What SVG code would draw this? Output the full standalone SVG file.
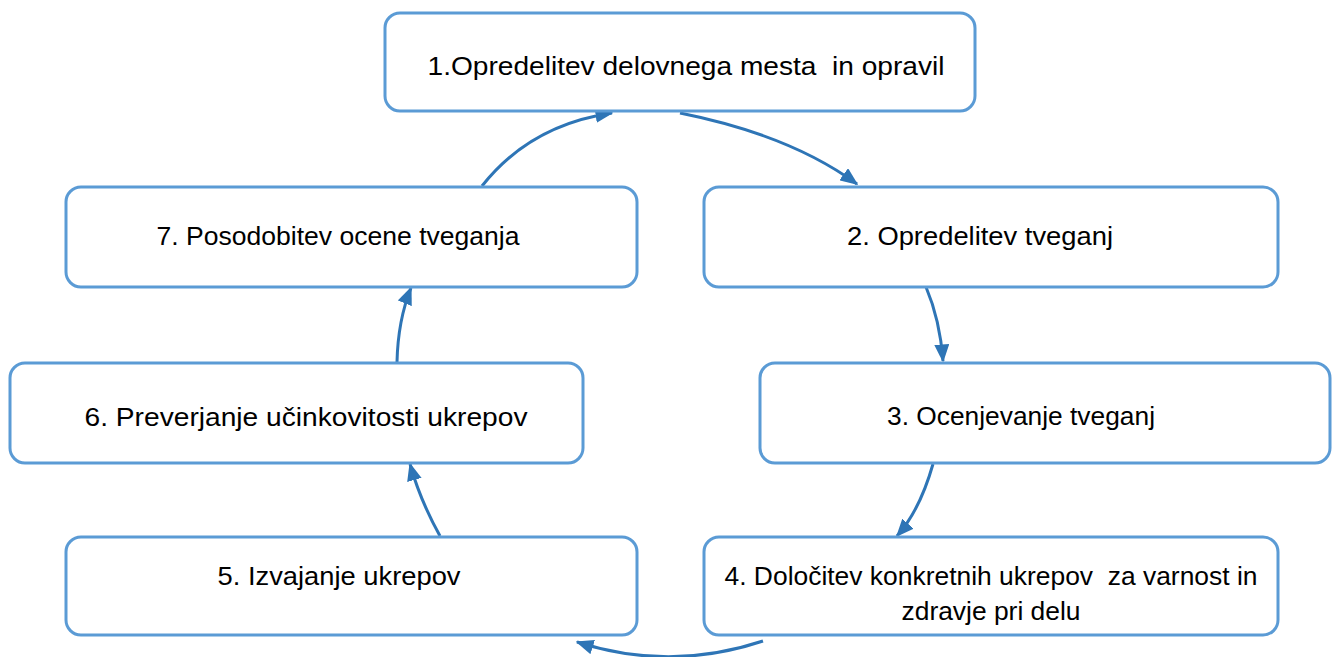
<svg xmlns="http://www.w3.org/2000/svg" width="1339" height="657" viewBox="0 0 1339 657">
<defs>
<style>
.box{fill:#fff;stroke:#5b9bd5;stroke-width:3}
.t{font-family:"Liberation Sans",Arial,sans-serif;font-size:26px;fill:#000;text-anchor:middle;white-space:pre}
.c{fill:none;stroke:#2e75b6;stroke-width:3}
</style>
<marker id="a" viewBox="0 0 12 10" refX="11" refY="5" markerWidth="18" markerHeight="15" orient="auto" markerUnits="userSpaceOnUse">
<path d="M0,0 L12,5 L0,10 z" fill="#2e75b6"/>
</marker>
</defs>
<g id="connectors">
<path class="c" d="M482,186 Q530,125 612,113" marker-end="url(#a)"/>
<path class="c" d="M680,113 Q790,135 857,184" marker-end="url(#a)"/>
<path class="c" d="M926,287 Q940,320 943,361" marker-end="url(#a)"/>
<path class="c" d="M933,464 Q920,510 897,536" marker-end="url(#a)"/>
<path class="c" d="M763,641 Q670,672 577,642" marker-end="url(#a)"/>
<path class="c" d="M440,536 Q420,500 410,464" marker-end="url(#a)"/>
<path class="c" d="M397,362 Q398,320 411,288" marker-end="url(#a)"/>
</g>
<g id="n1"><rect class="box" x="385" y="13" width="590" height="98" rx="15"/><text class="t" x="686" y="75" textLength="517" lengthAdjust="spacingAndGlyphs">1.Opredelitev delovnega mesta  in opravil</text></g>
<g id="n2"><rect class="box" x="704" y="187" width="574" height="100" rx="15"/><text class="t" x="980" y="245" textLength="266" lengthAdjust="spacingAndGlyphs">2. Opredelitev tveganj</text></g>
<g id="n3"><rect class="box" x="760" y="363" width="570" height="100" rx="15"/><text class="t" x="1021" y="425" textLength="268" lengthAdjust="spacingAndGlyphs">3. Ocenjevanje tveganj</text></g>
<g id="n4"><rect class="box" x="704" y="537" width="574" height="98" rx="15"/><text class="t" x="991" y="585" textLength="533" lengthAdjust="spacingAndGlyphs">4. Določitev konkretnih ukrepov  za varnost in</text><text class="t" x="991" y="620" textLength="179" lengthAdjust="spacingAndGlyphs">zdravje pri delu</text></g>
<g id="n5"><rect class="box" x="66" y="537" width="571" height="98" rx="15"/><text class="t" x="339" y="585" textLength="243" lengthAdjust="spacingAndGlyphs">5. Izvajanje ukrepov</text></g>
<g id="n6"><rect class="box" x="10" y="363" width="573" height="100" rx="15"/><text class="t" x="306" y="426" textLength="443" lengthAdjust="spacingAndGlyphs">6. Preverjanje učinkovitosti ukrepov</text></g>
<g id="n7"><rect class="box" x="66" y="187" width="571" height="100" rx="15"/><text class="t" x="338" y="245" textLength="363" lengthAdjust="spacingAndGlyphs">7. Posodobitev ocene tveganja</text></g>
</svg>
